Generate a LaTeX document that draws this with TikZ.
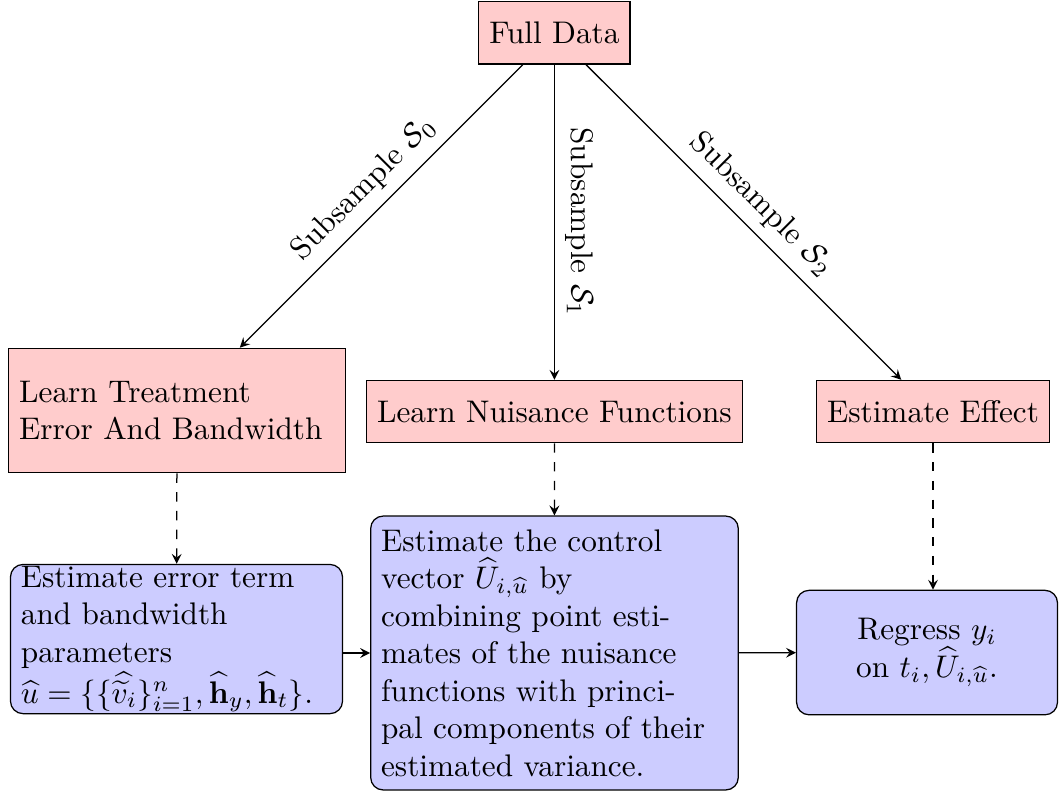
\documentclass[tikz,border=0pt]{standalone}
\usepackage{amsmath,amssymb}
\usetikzlibrary{arrows}
\begin{document}
\begin{tikzpicture}[>=stealth]
		\tikzstyle{stage}=[draw,fill=red!20,minimum height=0.7cm];
		\tikzstyle{result}=[draw,fill=blue!20,rounded corners,align=left];
		\useasboundingbox (0,0) rectangle (11.91,-8.885);
		\node[stage] (full) at (6.235,-0.371) {Full Data};
		\node[stage,text width=3.55cm,minimum height=1.4cm,align=left] (treat) at (1.991,-4.617) {Learn Treatment\\Error And Bandwidth};
		\node[stage] (nuis) at (6.235,-4.628) {Learn Nuisance Functions};
		\node[stage] (effect) at (10.493,-4.628) {Estimate Effect};
		\node[result,text width=3.5cm,inner ysep=0.5pt] (est) at (1.985,-7.187) {Estimate error term\\and bandwidth\\parameters\\$\widehat{u}=\{\{\widehat{\widetilde{v}_i}\}_{i=1}^n,\widehat{\mathbf{h}}_y,\widehat{\mathbf{h}}_t\}$.};
		\node[result,text width=3.9cm,inner ysep=4.3pt] (ctrl) at (6.236,-7.344) {Estimate the control\\vector $\widehat{U}_{i,\widehat{u}}$ by\\combining point esti-\\mates of the nuisance\\functions with princi-\\pal components of their\\estimated variance.};
		\node[result,text width=2.7cm,align=center,minimum height=1.4cm] (regr) at (10.426,-7.339) {Regress $y_i$\\on $t_i,\widehat{U}_{i,\widehat{u}}$.};
		\draw[->] (full) -- node[midway,above,sloped] {Subsample $\mathcal{S}_0$} (treat);
		\draw[->] (full) -- node[midway,above,sloped] {Subsample $\mathcal{S}_1$} (nuis);
		\draw[->] (full) -- node[midway,above,sloped] {Subsample $\mathcal{S}_2$} (effect);
		\draw[->,dashed] (treat) -- (est);
		\draw[->,dashed] (nuis) -- (ctrl);
		\draw[->,dashed] (effect.south) -- (effect.south |- regr.north);
		\draw[->] (est.east |- ctrl.west) -- (ctrl.west);
		\draw[->] (ctrl) -- (regr);
\end{tikzpicture}
\end{document}
